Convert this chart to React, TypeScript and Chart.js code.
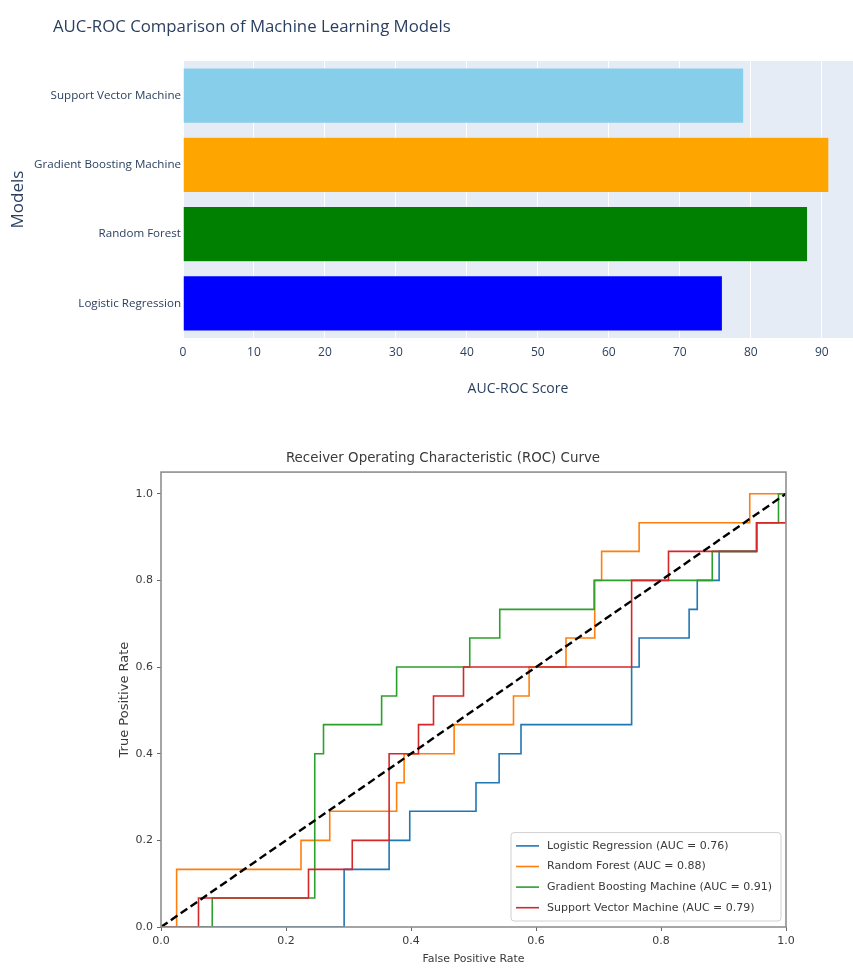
import React, { useEffect, useRef } from "react";
import { Chart, registerables } from "chart.js";

Chart.register(...registerables);

// ---------------- Bar chart data ----------------
const MODELS = [
  "Logistic Regression",
  "Random Forest",
  "Gradient Boosting Machine",
  "Support Vector Machine",
];
const AUC_SCORES = [76, 88, 91, 79];
const BAR_COLORS = ["#0000FF", "#008000", "#FFA500", "#87CEEB"];
const BAR_X_MAX = 94.4;
const BAR_X_STEP = 10;

// ---------------- ROC data ----------------
const ROC_AUC = [0.76, 0.88, 0.91, 0.79];
const ROC_COLORS = ["#1f77b4", "#ff7f0e", "#2ca02c", "#d62728"];

const LR_FPR = [0, 0.293, 0.293, 0.365, 0.365, 0.398, 0.398, 0.504, 0.504, 0.541, 0.541, 0.576, 0.576, 0.753, 0.753, 0.765, 0.765, 0.845, 0.845, 0.858, 0.858, 0.893, 0.893, 0.953, 0.953, 1.0, 1.0];
const LR_TPR = [0, 0, 0.133, 0.133, 0.2, 0.2, 0.267, 0.267, 0.333, 0.333, 0.4, 0.4, 0.467, 0.467, 0.6, 0.6, 0.667, 0.667, 0.733, 0.733, 0.8, 0.8, 0.867, 0.867, 0.933, 0.933, 1.0];

const RF_FPR = [0, 0.025, 0.025, 0.224, 0.224, 0.27, 0.27, 0.377, 0.377, 0.389, 0.389, 0.469, 0.469, 0.564, 0.564, 0.589, 0.589, 0.648, 0.648, 0.694, 0.694, 0.705, 0.705, 0.765, 0.765, 0.942, 0.942, 1.0];
const RF_TPR = [0, 0, 0.133, 0.133, 0.2, 0.2, 0.267, 0.267, 0.333, 0.333, 0.4, 0.4, 0.467, 0.467, 0.533, 0.533, 0.6, 0.6, 0.667, 0.667, 0.8, 0.8, 0.867, 0.867, 0.933, 0.933, 1.0, 1.0];

const GBM_FPR = [0, 0.082, 0.082, 0.246, 0.246, 0.26, 0.26, 0.353, 0.353, 0.377, 0.377, 0.494, 0.494, 0.542, 0.542, 0.693, 0.693, 0.882, 0.882, 0.953, 0.953, 0.988, 0.988, 1.0];
const GBM_TPR = [0, 0, 0.067, 0.067, 0.4, 0.4, 0.467, 0.467, 0.533, 0.533, 0.6, 0.6, 0.667, 0.667, 0.733, 0.733, 0.8, 0.8, 0.867, 0.867, 0.933, 0.933, 1.0, 1.0];

const SVM_FPR = [0, 0.06, 0.06, 0.236, 0.236, 0.306, 0.306, 0.365, 0.365, 0.412, 0.412, 0.436, 0.436, 0.484, 0.484, 0.753, 0.753, 0.812, 0.812, 0.953, 0.953, 1.0, 1.0];
const SVM_TPR = [0, 0, 0.067, 0.067, 0.133, 0.133, 0.2, 0.2, 0.4, 0.4, 0.467, 0.467, 0.533, 0.533, 0.6, 0.6, 0.8, 0.8, 0.867, 0.867, 0.933, 0.933, 1.0];

const DIAG_X = [0, 1];
const DIAG_Y = [0, 1];
const ROC_STEP = 0.2;

// ---------------- Styling ----------------
const PLOTLY_TEXT = "#2a3f5f";
const PLOTLY_BG = "#E5ECF6";
const OPEN = "'Open Sans', sans-serif";
const DEJAVU = "'DejaVu Sans', sans-serif";
const MPL_TEXT = "#3a3a3a";

// ---------------- Plugins ----------------
const plotBgPlugin = {
  id: "plotBg",
  beforeDraw(chart: any, _args: any, opts: any) {
    const { ctx, chartArea: a } = chart;
    ctx.save();
    ctx.fillStyle = opts.color;
    ctx.fillRect(a.left, a.top, a.right - a.left, a.bottom - a.top);
    ctx.restore();
  },
};

const cornerTitlePlugin = {
  id: "cornerTitle",
  afterDraw(chart: any, _args: any, opts: any) {
    const { ctx } = chart;
    ctx.save();
    ctx.font = opts.font;
    ctx.fillStyle = opts.color;
    ctx.textAlign = "left";
    ctx.textBaseline = "middle";
    ctx.fillText(opts.text, opts.x, opts.y);
    ctx.restore();
  },
};

const framePlugin = {
  id: "frame",
  afterDatasetsDraw(chart: any, _args: any, opts: any) {
    const { ctx, chartArea: a } = chart;
    ctx.save();
    ctx.strokeStyle = opts.color;
    ctx.lineWidth = opts.width;
    ctx.strokeRect(a.left, a.top, a.right - a.left, a.bottom - a.top);
    ctx.restore();
  },
};

const insideLegendPlugin = {
  id: "insideLegend",
  afterDraw(chart: any, _args: any, opts: any) {
    const items = chart.data.datasets.filter((d: any) => d.label);
    const { ctx, chartArea: a } = chart;
    const h = items.length * opts.rowHeight + opts.padY * 2;
    const right = a.right - opts.marginRight;
    const bottom = a.bottom - opts.marginBottom;
    const left = right - opts.width;
    const top = bottom - h;
    ctx.save();
    ctx.beginPath();
    if (ctx.roundRect) ctx.roundRect(left, top, opts.width, h, 3);
    else ctx.rect(left, top, opts.width, h);
    ctx.fillStyle = "rgba(255,255,255,0.8)";
    ctx.fill();
    ctx.strokeStyle = "#d0d0d0";
    ctx.lineWidth = 1;
    ctx.stroke();
    ctx.font = opts.font;
    ctx.textAlign = "left";
    ctx.textBaseline = "middle";
    items.forEach((d: any, i: number) => {
      const y = top + opts.padY + opts.rowHeight * (i + 0.5);
      ctx.beginPath();
      ctx.strokeStyle = d.borderColor;
      ctx.lineWidth = 1.6;
      ctx.moveTo(left + 5, y);
      ctx.lineTo(left + 28, y);
      ctx.stroke();
      ctx.fillStyle = opts.color;
      ctx.fillText(d.label, left + 36, y);
    });
    ctx.restore();
  },
};

// ---------------- Configs ----------------
function barConfig(): any {
  return {
    type: "bar",
    data: {
      labels: MODELS,
      datasets: [
        {
          data: AUC_SCORES,
          backgroundColor: BAR_COLORS,
          borderColor: PLOTLY_BG,
          borderWidth: 0.5,
          barPercentage: 0.8,
          categoryPercentage: 1.0,
        },
      ],
    },
    options: {
      indexAxis: "y",
      animation: false,
      responsive: false,
      maintainAspectRatio: false,
      layout: { padding: { top: 61, right: 0, bottom: 0, left: 0 } },
      plugins: {
        legend: { display: false },
        tooltip: { enabled: false },
        title: { display: false },
        plotBg: { color: PLOTLY_BG },
        cornerTitle: {
          text: "AUC-ROC Comparison of Machine Learning Models",
          x: 53,
          y: 27,
          font: `16.8px ${OPEN}`,
          color: PLOTLY_TEXT,
        },
      },
      scales: {
        x: {
          type: "linear",
          min: 0,
          max: BAR_X_MAX,
          ticks: {
            stepSize: BAR_X_STEP,
            includeBounds: false,
            padding: 7,
            color: PLOTLY_TEXT,
            font: { family: OPEN, size: 12 },
          },
          grid: { color: "#ffffff", lineWidth: 1, drawTicks: false },
          border: { display: false },
          title: {
            display: true,
            text: "AUC-ROC Score",
            color: PLOTLY_TEXT,
            font: { family: OPEN, size: 14 },
            padding: { top: 0, bottom: 13 },
          },
          afterFit: (s: any) => {
            s.height = 72;
          },
        },
        y: {
          reverse: true,
          ticks: {
            color: PLOTLY_TEXT,
            font: { family: OPEN, size: 11.6 },
            padding: 2,
          },
          grid: { display: false, drawTicks: false },
          border: { display: false },
          title: {
            display: true,
            text: "Models",
            color: PLOTLY_TEXT,
            font: { family: OPEN, size: 17 },
            padding: { top: 8, bottom: 0 },
          },
          afterFit: (s: any) => {
            s.width = 183;
          },
        },
      },
    },
    plugins: [plotBgPlugin, cornerTitlePlugin],
  };
}

function rocConfig(): any {
  const series = [
    { fpr: LR_FPR, tpr: LR_TPR },
    { fpr: RF_FPR, tpr: RF_TPR },
    { fpr: GBM_FPR, tpr: GBM_TPR },
    { fpr: SVM_FPR, tpr: SVM_TPR },
  ];
  const datasets: any[] = series.map((s, i) => ({
    label: `${MODELS[i]} (AUC = ${ROC_AUC[i].toFixed(2)})`,
    data: s.fpr.map((x, j) => ({ x, y: s.tpr[j] })),
    borderColor: ROC_COLORS[i],
    borderWidth: 1.6,
    pointRadius: 0,
    fill: false,
    tension: 0,
    order: 4 - i,
  }));
  datasets.push({
    label: "",
    data: DIAG_X.map((x, j) => ({ x, y: DIAG_Y[j] })),
    borderColor: "#000000",
    borderDash: [8, 4],
    borderWidth: 2.4,
    pointRadius: 0,
    fill: false,
    order: 0,
  });
  const tickFmt = (v: any) => Number(v).toFixed(1);
  return {
    type: "line",
    data: { datasets },
    options: {
      animation: false,
      responsive: false,
      maintainAspectRatio: false,
      layout: { padding: { top: 0, right: 61, bottom: 0, left: 0 } },
      plugins: {
        legend: { display: false },
        tooltip: { enabled: false },
        title: {
          display: true,
          text: "Receiver Operating Characteristic (ROC) Curve",
          color: MPL_TEXT,
          font: { family: DEJAVU, size: 13.4, weight: "normal" },
          padding: { top: 30, bottom: 6 },
        },
        frame: { color: "#8f8f8f", width: 1.6 },
        insideLegend: {
          width: 270,
          rowHeight: 20.6,
          padY: 3,
          marginRight: 5,
          marginBottom: 6,
          font: `11px ${DEJAVU}`,
          color: MPL_TEXT,
        },
      },
      scales: {
        x: {
          type: "linear",
          min: 0,
          max: 1,
          ticks: {
            stepSize: ROC_STEP,
            callback: tickFmt,
            padding: 4,
            color: MPL_TEXT,
            font: { family: DEJAVU, size: 11 },
          },
          grid: { drawOnChartArea: false, drawTicks: true, tickLength: 4, tickColor: "#666", tickWidth: 1 },
          border: { display: false },
          title: {
            display: true,
            text: "False Positive Rate",
            color: MPL_TEXT,
            font: { family: DEJAVU, size: 11 },
            padding: { top: 0, bottom: 3 },
          },
          afterFit: (s: any) => {
            s.height = 42;
          },
        },
        y: {
          type: "linear",
          min: 0,
          max: 1.05,
          ticks: {
            stepSize: ROC_STEP,
            includeBounds: false,
            callback: tickFmt,
            padding: 4,
            color: MPL_TEXT,
            font: { family: DEJAVU, size: 11 },
          },
          grid: { drawOnChartArea: false, drawTicks: true, tickLength: 4, tickColor: "#666", tickWidth: 1 },
          border: { display: false },
          title: {
            display: true,
            text: "True Positive Rate",
            color: MPL_TEXT,
            font: { family: DEJAVU, size: 13 },
            padding: { top: 17, bottom: 0 },
          },
          afterFit: (s: any) => {
            s.width = 61;
          },
        },
      },
    },
    plugins: [framePlugin, insideLegendPlugin],
  };
}

export default function App() {
  const topRef = useRef<HTMLCanvasElement>(null);
  const rocRef = useRef<HTMLCanvasElement>(null);

  useEffect(() => {
    const c1 = new Chart(topRef.current as HTMLCanvasElement, barConfig());
    const c2 = new Chart(rocRef.current as HTMLCanvasElement, rocConfig());
    return () => {
      c1.destroy();
      c2.destroy();
    };
  }, []);

  return (
    <div
      style={{
        position: "absolute",
        left: 0,
        top: 0,
        width: 853,
        height: 969,
        background: "#ffffff",
        overflow: "hidden",
      }}
    >
      <canvas ref={topRef} width={853} height={410} style={{ position: "absolute", left: 0, top: 0 }} />
      <canvas ref={rocRef} width={747} height={549} style={{ position: "absolute", left: 100, top: 420 }} />
    </div>
  );
}
